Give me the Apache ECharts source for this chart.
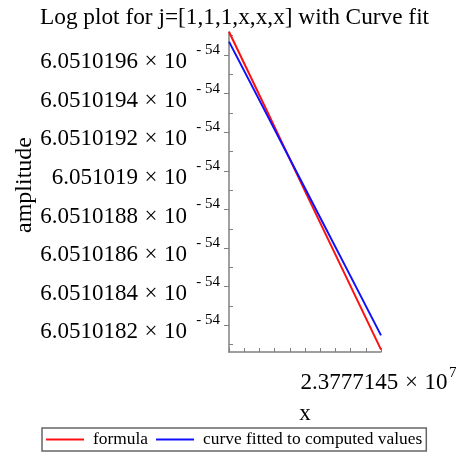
<!DOCTYPE html>
<html>
<head>
<meta charset="utf-8">
<script src="https://cdn.jsdelivr.net/npm/echarts@6/dist/echarts.min.js"></script>
<style>
  html, body { margin: 0; padding: 0; background: #fff; }
  #chart { width: 461px; height: 455px; }
</style>
</head>
<body>
<div id="chart"></div>
<script>
// x values (raw), y values in units of 1e-61 above 6.0510180e-54
const xValues = [23777135, 23777137.5, 23777140, 23777142.5, 23777145];
const formulaValues = [17.2, 13.1, 8.95, 4.85, 0.74];
const fittedValues = [16.69, 12.9, 9.1, 5.3, 1.48];

const yLabelTicks = [2, 4, 6, 8, 10, 12, 14, 16];
const yMinorTicks = [1, 3, 5, 7, 9, 11, 13, 15, 17];
const xTicks = [23777135, 23777136, 23777137, 23777138, 23777139, 23777140,
  23777141, 23777142, 23777143, 23777144, 23777145];
const xLabelTicks = [23777145];

const SERIF = "'Liberation Serif', 'DejaVu Serif', serif";
const AXIS_COLOR = "#808080";
const Y_MIN = 0.62;
const Y_MAX = 17.19;
const TIMES = "\u2009\u200a×\u2009\u200a10";

function yMantissa(v) {
  const s = String(60510180 + Math.round(v));
  return (s[0] + "." + s.slice(1)).replace(/0+$/, "") + TIMES;
}

function pairs(ys) {
  return xValues.map((x, i) => [x, ys[i]]);
}

const chart = echarts.init(document.getElementById("chart"));

const hidden = { show: false };

chart.setOption({
  animation: false,
  title: {
    text: "Log plot for j=[1,1,1,x,x,x] with Curve fit",
    left: 35,
    top: 1,
    textStyle: { fontFamily: SERIF, fontSize: 23.3, fontWeight: "normal", color: "#000" },
  },
  legend: {
    bottom: 4,
    left: 42,
    icon: "rect",
    itemWidth: 38,
    itemHeight: 2,
    itemGap: 8,
    borderColor: "#666",
    borderWidth: 1.5,
    padding: [3, 4, 3, 4],
    textStyle: { fontFamily: SERIF, fontSize: 17.4, color: "#000", padding: [0, 0, 0, 4] },
    data: ["formula", "curve fitted to computed values"],
  },
  grid: { left: 229, right: 80, top: 32, bottom: 103 },
  xAxis: [
    {
      type: "value",
      min: 23777135,
      max: 23777145,
      name: "x",
      nameLocation: "middle",
      nameGap: 50,
      nameMoveOverlap: false,
      nameTextStyle: { fontFamily: SERIF, fontSize: 23, color: "#000" },
      axisLine: { lineStyle: { color: AXIS_COLOR, width: 1.5 } },
      axisTick: { inside: true, length: 4, customValues: xTicks, lineStyle: { color: AXIS_COLOR } },
      splitLine: hidden,
      axisLabel: {
        customValues: xLabelTicks,
        margin: 19,
        padding: [0, 14, 0, 0],
        fontFamily: SERIF,
        fontSize: 23,
        color: "#000",
        formatter: () => "2.3777145" + TIMES,
      },
    },
    {
      // superscript exponent of the x label
      type: "value",
      position: "bottom",
      min: 23777135,
      max: 23777145,
      axisLine: hidden,
      axisTick: hidden,
      splitLine: hidden,
      axisLabel: {
        customValues: xLabelTicks,
        margin: 14,
        align: "left",
        padding: [0, 0, 0, 68],
        fontFamily: SERIF,
        fontSize: 15,
        color: "#000",
        formatter: () => "7",
      },
    },
  ],
  yAxis: [
    {
      type: "value",
      min: Y_MIN,
      max: Y_MAX,
      name: "amplitude",
      nameLocation: "middle",
      nameGap: 192,
      nameMoveOverlap: false,
      nameTextStyle: { fontFamily: SERIF, fontSize: 24, color: "#000", padding: [0, 0, 0, 14] },
      axisLine: { show: true, lineStyle: { color: AXIS_COLOR, width: 1.5 } },
      axisTick: { length: 5, customValues: yLabelTicks, lineStyle: { color: AXIS_COLOR } },
      splitLine: hidden,
      axisLabel: {
        customValues: yLabelTicks,
        margin: 42,
        verticalAlign: "top",
        lineHeight: 14,
        fontFamily: SERIF,
        fontSize: 23,
        color: "#000",
        formatter: yMantissa,
      },
    },
    {
      // superscript exponents of the y labels
      type: "value",
      position: "left",
      min: Y_MIN,
      max: Y_MAX,
      axisLine: hidden,
      axisTick: hidden,
      splitLine: hidden,
      axisLabel: {
        customValues: yLabelTicks,
        margin: 9,
        verticalAlign: "bottom",
        lineHeight: 10,
        fontFamily: SERIF,
        fontSize: 15,
        color: "#000",
        formatter: () => "- 54",
      },
    },
    {
      // minor ticks pointing inwards
      type: "value",
      position: "left",
      min: Y_MIN,
      max: Y_MAX,
      axisLine: hidden,
      axisTick: { inside: true, length: 4, customValues: yMinorTicks, lineStyle: { color: AXIS_COLOR } },
      axisLabel: hidden,
      splitLine: hidden,
    },
  ],
  series: [
    {
      name: "formula",
      type: "line",
      showSymbol: false,
      data: pairs(formulaValues),
      lineStyle: { color: "#ff1010", width: 2 },
      itemStyle: { color: "#ff1010" },
    },
    {
      name: "curve fitted to computed values",
      type: "line",
      showSymbol: false,
      data: pairs(fittedValues),
      lineStyle: { color: "#1010ff", width: 2 },
      itemStyle: { color: "#1010ff" },
    },
  ],
});
</script>
</body>
</html>
